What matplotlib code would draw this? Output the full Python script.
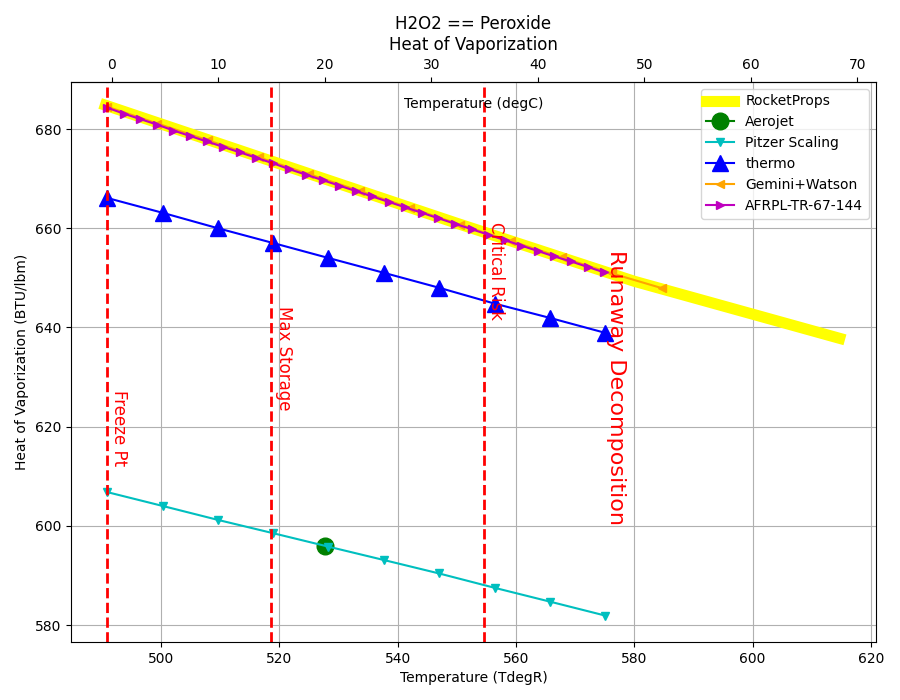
import matplotlib
matplotlib.use("Agg")
import matplotlib.pyplot as plt

# RocketProps curve (degR, BTU/lbm)
rp_T = [490.6, 520.0, 550.0, 580.0, 614.7]
rp_H = [684.8, 673.0, 661.0, 649.3, 637.8]

# Aerojet single point
aj_T = [527.7]
aj_H = [595.9]

# Pitzer Scaling and thermo share temperatures
pz_T = [490.9, 500.3, 509.6, 519.0, 528.3, 537.7, 547.0, 556.4, 565.8, 575.1]
pz_H = [606.8, 604.0, 601.2, 598.5, 595.8, 593.1, 590.4, 587.5, 584.7, 581.9]
th_H = [666.1, 663.1, 660.0, 657.0, 654.0, 651.0, 648.0, 644.8, 641.9, 638.9]

# Gemini+Watson
gw_T = [490.9, 499.4, 508.0, 516.5, 525.0, 533.6, 542.1, 550.6, 559.2, 567.7, 576.2, 584.7]
gw_H = [684.5, 681.1, 677.7, 674.3, 670.9, 667.5, 664.1, 660.7, 657.4, 654.1, 650.9, 647.9]

# AFRPL-TR-67-144
af_T = [490.9, 493.7, 496.5, 499.3, 502.1, 504.9, 507.7, 510.5, 513.3, 516.1,
        518.9, 521.7, 524.5, 527.3, 530.1, 532.9, 535.7, 538.5, 541.3, 544.1,
        546.9, 549.7, 552.5, 555.3, 558.1, 560.9, 563.7, 566.5, 569.3, 572.1, 574.9]
af_H = [684.3, 683.1, 682.0, 680.9, 679.7, 678.6, 677.5, 676.4, 675.3, 674.2,
        673.1, 671.9, 670.8, 669.7, 668.6, 667.5, 666.4, 665.3, 664.2, 663.1,
        662.0, 660.9, 659.8, 658.7, 657.6, 656.5, 655.4, 654.3, 653.3, 652.2, 651.1]

# marker lines (degR) and their labels
vlines_T = [490.9, 518.67, 554.67]
notes = [("Freeze Pt", 491.4, 627.4, 12),
         ("Max Storage", 519.3, 644.3, 12),
         ("Critical Risk", 555.1, 661.2, 12),
         ("Runaway Decomposition", 575.2, 655.6, 16)]

degC_ticks = [0, 10, 20, 30, 40, 50, 60, 70]


def r_to_c(t):
    return (t - 491.67) / 1.8


def c_to_r(c):
    return c * 1.8 + 491.67


fig = plt.figure(figsize=(9, 7), dpi=100)
ax = fig.add_axes([0.079, 0.083, 0.894, 0.8])

ax.plot(rp_T, rp_H, '-', color='yellow', lw=8, label='RocketProps')
ax.plot(aj_T, aj_H, 'o-', color='green', ms=12, label='Aerojet')
ax.plot(pz_T, pz_H, 'v-', color='c', ms=6, label='Pitzer Scaling')
ax.plot(pz_T, th_H, '^-', color='b', ms=12, label='thermo')
ax.plot(gw_T, gw_H, '<-', color='orange', ms=6, label='Gemini+Watson')
ax.plot(af_T, af_H, '>-', color='m', ms=6, label='AFRPL-TR-67-144')

for t in vlines_T:
    ax.axvline(t, color='r', ls='--', lw=2)

for s, x, y, fs in notes:
    ax.text(x, y, s, rotation=270, color='r', fontsize=fs, ha='left', va='top')

ax.set_xlim(484.8, 620.8)
ax.set_ylim(576.6, 689.5)
ax.grid(True)
ax.set_xlabel('Temperature (TdegR)')
ax.set_ylabel('Heat of Vaporization (BTU/lbm)')
ax.legend(loc='upper right')

secax = ax.secondary_xaxis('top', functions=(r_to_c, c_to_r))
secax.set_xticks(degC_ticks)
ax.text(0.5, 0.96, 'Temperature (degC)', transform=ax.transAxes,
        ha='center', va='center')

ax.set_title('H2O2 == Peroxide\nHeat of Vaporization')

fig.savefig('out.png')
